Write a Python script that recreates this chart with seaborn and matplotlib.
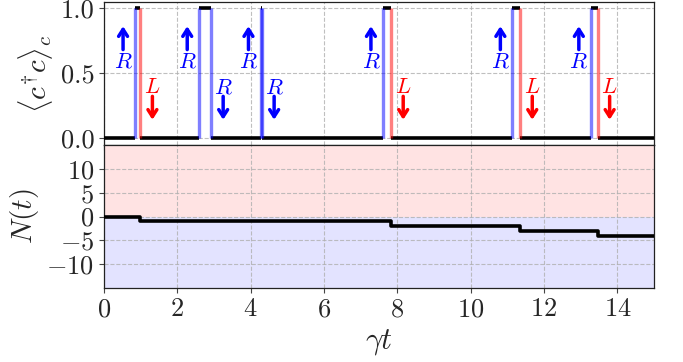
import numpy as np
import pandas as pd
import matplotlib
matplotlib.use("Agg")
import matplotlib.pyplot as plt
import seaborn as sns

# ---- data ----
jump_times = [0.85, 0.99, 2.60, 2.92, 4.27, 4.31, 7.61, 7.83, 11.14, 11.35, 13.28, 13.46]
jump_channel = ["R", "L", "R", "R", "R", "R", "R", "L", "R", "L", "R", "L"]
jump_dir = ["in", "out", "in", "out", "in", "out", "in", "out", "in", "out", "in", "out"]

occ_times = [0.0, 0.85, 0.99, 2.60, 2.92, 4.27, 4.31, 7.61, 7.83, 11.14, 11.35, 13.28, 13.46, 15.0]
occ_values = [0, 1, 0, 1, 0, 1, 0, 1, 0, 1, 0, 1, 0, 0]

N_times = [0.0, 0.99, 7.83, 11.35, 13.46, 15.0]
N_values = [0, -1, -2, -3, -4, -4]

x_ticks = [0, 2, 4, 6, 8, 10, 12, 14]
top_yticks = [0.0, 0.5, 1.0]
bot_yticks = [-10, -5, 0, 5, 10]

# ---- style ----
sns.set_style("ticks")
plt.rcParams.update({
    "font.family": ["serif"],
    "font.serif": ["cmr10"],
    "mathtext.fontset": "cm",
    "axes.formatter.use_mathtext": True,
    "axes.unicode_minus": True,
    "xtick.direction": "out",
    "ytick.direction": "out",
})

fig = plt.figure(figsize=(6.83, 3.62), dpi=100)
L, R = 104 / 683, 654 / 683
ax1 = fig.add_axes([L, 1 - 145 / 362, R - L, 143 / 362])
ax2 = fig.add_axes([L, 1 - 288 / 362, R - L, 143 / 362], sharex=ax1)

grid_kw = dict(color="#b0b0b0", ls="--", lw=0.8, alpha=0.8)
for ax in (ax1, ax2):
    ax.grid(True, **grid_kw)
    ax.set_axisbelow(True)
    for s in ax.spines.values():
        s.set_color("#222222")
        s.set_linewidth(0.9)
    ax.tick_params(labelsize=19, length=3.5, width=0.8, color="#444444")

# ---- top panel ----
occ_df = pd.DataFrame({"t0": occ_times[:-1], "t1": occ_times[1:], "n": occ_values[:-1]})
ax1.hlines(occ_df["n"], occ_df["t0"], occ_df["t1"], color="black", lw=2.6, zorder=3)

colors = {"R": "blue", "L": "red"}
arrow_kw = dict(arrowstyle="->,head_length=0.5,head_width=0.32", lw=2.5, shrinkA=0, shrinkB=0)
for t, ch, d in zip(jump_times, jump_channel, jump_dir):
    c = colors[ch]
    ax1.plot([t, t], [0, 1], color=c, alpha=0.5, lw=2.4, zorder=4, solid_capstyle="butt")
    if d == "in":
        xt = t - 0.33
        ax1.annotate("", xy=(xt, 0.86), xytext=(xt, 0.68), arrowprops=dict(color=c, **arrow_kw))
        ax1.text(xt, 0.59, f"${ch}$", color=c, fontsize=16, ha="center", va="center")
    else:
        xt = t + 0.33
        ax1.text(xt, 0.39, f"${ch}$", color=c, fontsize=16, ha="center", va="center")
        ax1.annotate("", xy=(xt, 0.14), xytext=(xt, 0.32), arrowprops=dict(color=c, **arrow_kw))

ax1.set_ylim(-0.054, 1.046)
ax1.set_yticks(top_yticks)
ax1.set_yticklabels([f"{v:.1f}" for v in top_yticks])
ax1.set_ylabel(r"$\langle c^{\dagger} c\rangle_c$", fontsize=21)
ax1.tick_params(labelbottom=False)

# ---- bottom panel ----
ax2.axhspan(0, 15, color="red", alpha=0.11, lw=0, zorder=0)
ax2.axhspan(-15, 0, color="blue", alpha=0.11, lw=0, zorder=0)
N_df = pd.DataFrame({"t": N_times, "N": N_values})
sns.lineplot(data=N_df, x="t", y="N", ax=ax2, color="black", lw=2.6,
             drawstyle="steps-post", zorder=3)
ax2.set_ylim(-15, 15)
ax2.set_yticks(bot_yticks)
ax2.set_xlim(0, 15)
ax2.set_xticks(x_ticks)
ax2.set_ylabel(r"$N(t)$", fontsize=21)
ax2.set_xlabel(r"$\gamma t$", fontsize=22)

fig.savefig("out.png", dpi=100)
